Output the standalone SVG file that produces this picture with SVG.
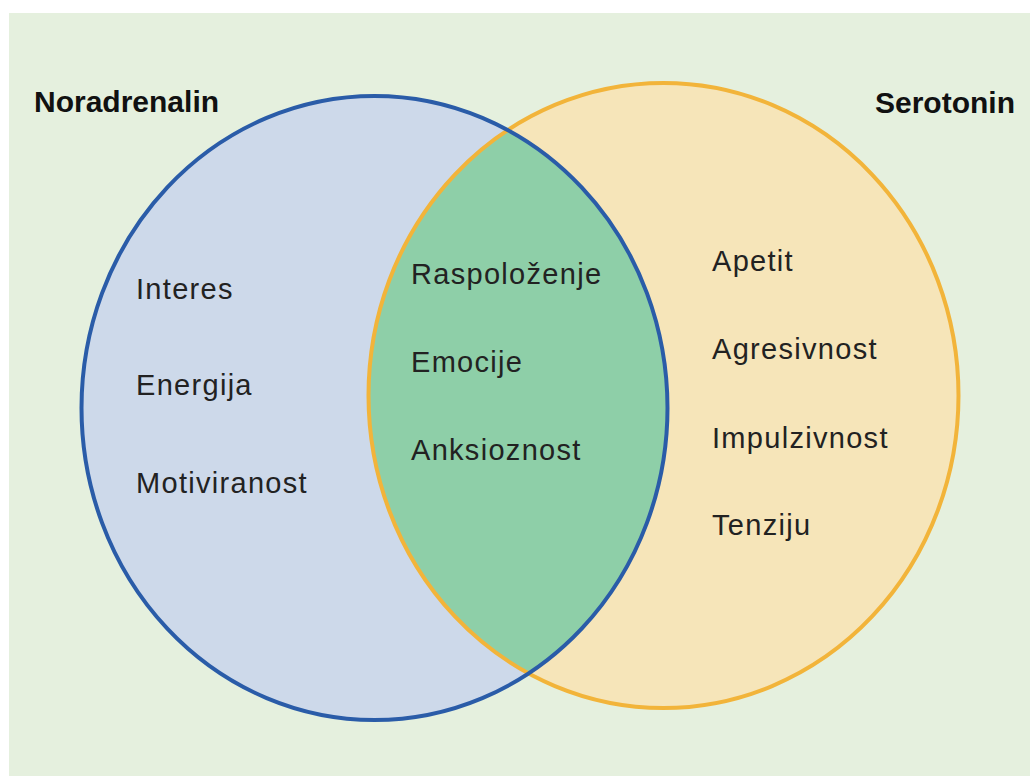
<svg xmlns="http://www.w3.org/2000/svg" width="1030" height="776" viewBox="0 0 1030 776">
  <style>
    .title { font-family: "Liberation Sans", Arial, sans-serif; font-weight: bold; font-size: 30px; fill: #111; }
    .item { font-family: "Liberation Sans", Arial, sans-serif; font-size: 29px; letter-spacing: 1.3px; fill: #222; }
  </style>
  <defs>
    <clipPath id="clipLeft">
      <ellipse cx="374.5" cy="408" rx="293" ry="312"/>
    </clipPath>
  </defs>
  <rect x="0" y="0" width="1030" height="776" fill="#ffffff"/>
  <rect x="9" y="13" width="1021" height="763" fill="#e5f0de"/>

  <g id="noradrenalin-set">
    <ellipse cx="374.5" cy="408" rx="293" ry="312" fill="#cdd9ea"/>
  </g>
  <g id="serotonin-set">
    <ellipse cx="663.5" cy="395.5" rx="295" ry="312.5" fill="#f6e5b9"/>
  </g>
  <g id="overlap">
    <ellipse cx="663.5" cy="395.5" rx="295" ry="312.5" fill="#8ecfa8" clip-path="url(#clipLeft)"/>
  </g>
  <g id="outlines">
    <ellipse cx="663.5" cy="395.5" rx="295" ry="312.5" fill="none" stroke="#f2b43a" stroke-width="4"/>
    <ellipse cx="374.5" cy="408" rx="293" ry="312" fill="none" stroke="#2a5ca8" stroke-width="4"/>
  </g>

  <g id="label-noradrenalin">
    <text class="title" x="34" y="112">Noradrenalin</text>
  </g>
  <g id="label-serotonin">
    <text class="title" x="875" y="113">Serotonin</text>
  </g>

  <g id="left-items">
    <text class="item" x="136" y="299">Interes</text>
    <text class="item" x="136" y="395">Energija</text>
    <text class="item" x="136" y="493">Motiviranost</text>
  </g>
  <g id="center-items">
    <text class="item" x="411" y="284">Raspoloženje</text>
    <text class="item" x="411" y="372">Emocije</text>
    <text class="item" x="411" y="460">Anksioznost</text>
  </g>
  <g id="right-items">
    <text class="item" x="712" y="271">Apetit</text>
    <text class="item" x="712" y="359">Agresivnost</text>
    <text class="item" x="712" y="448">Impulzivnost</text>
    <text class="item" x="712" y="535">Tenziju</text>
  </g>
</svg>
